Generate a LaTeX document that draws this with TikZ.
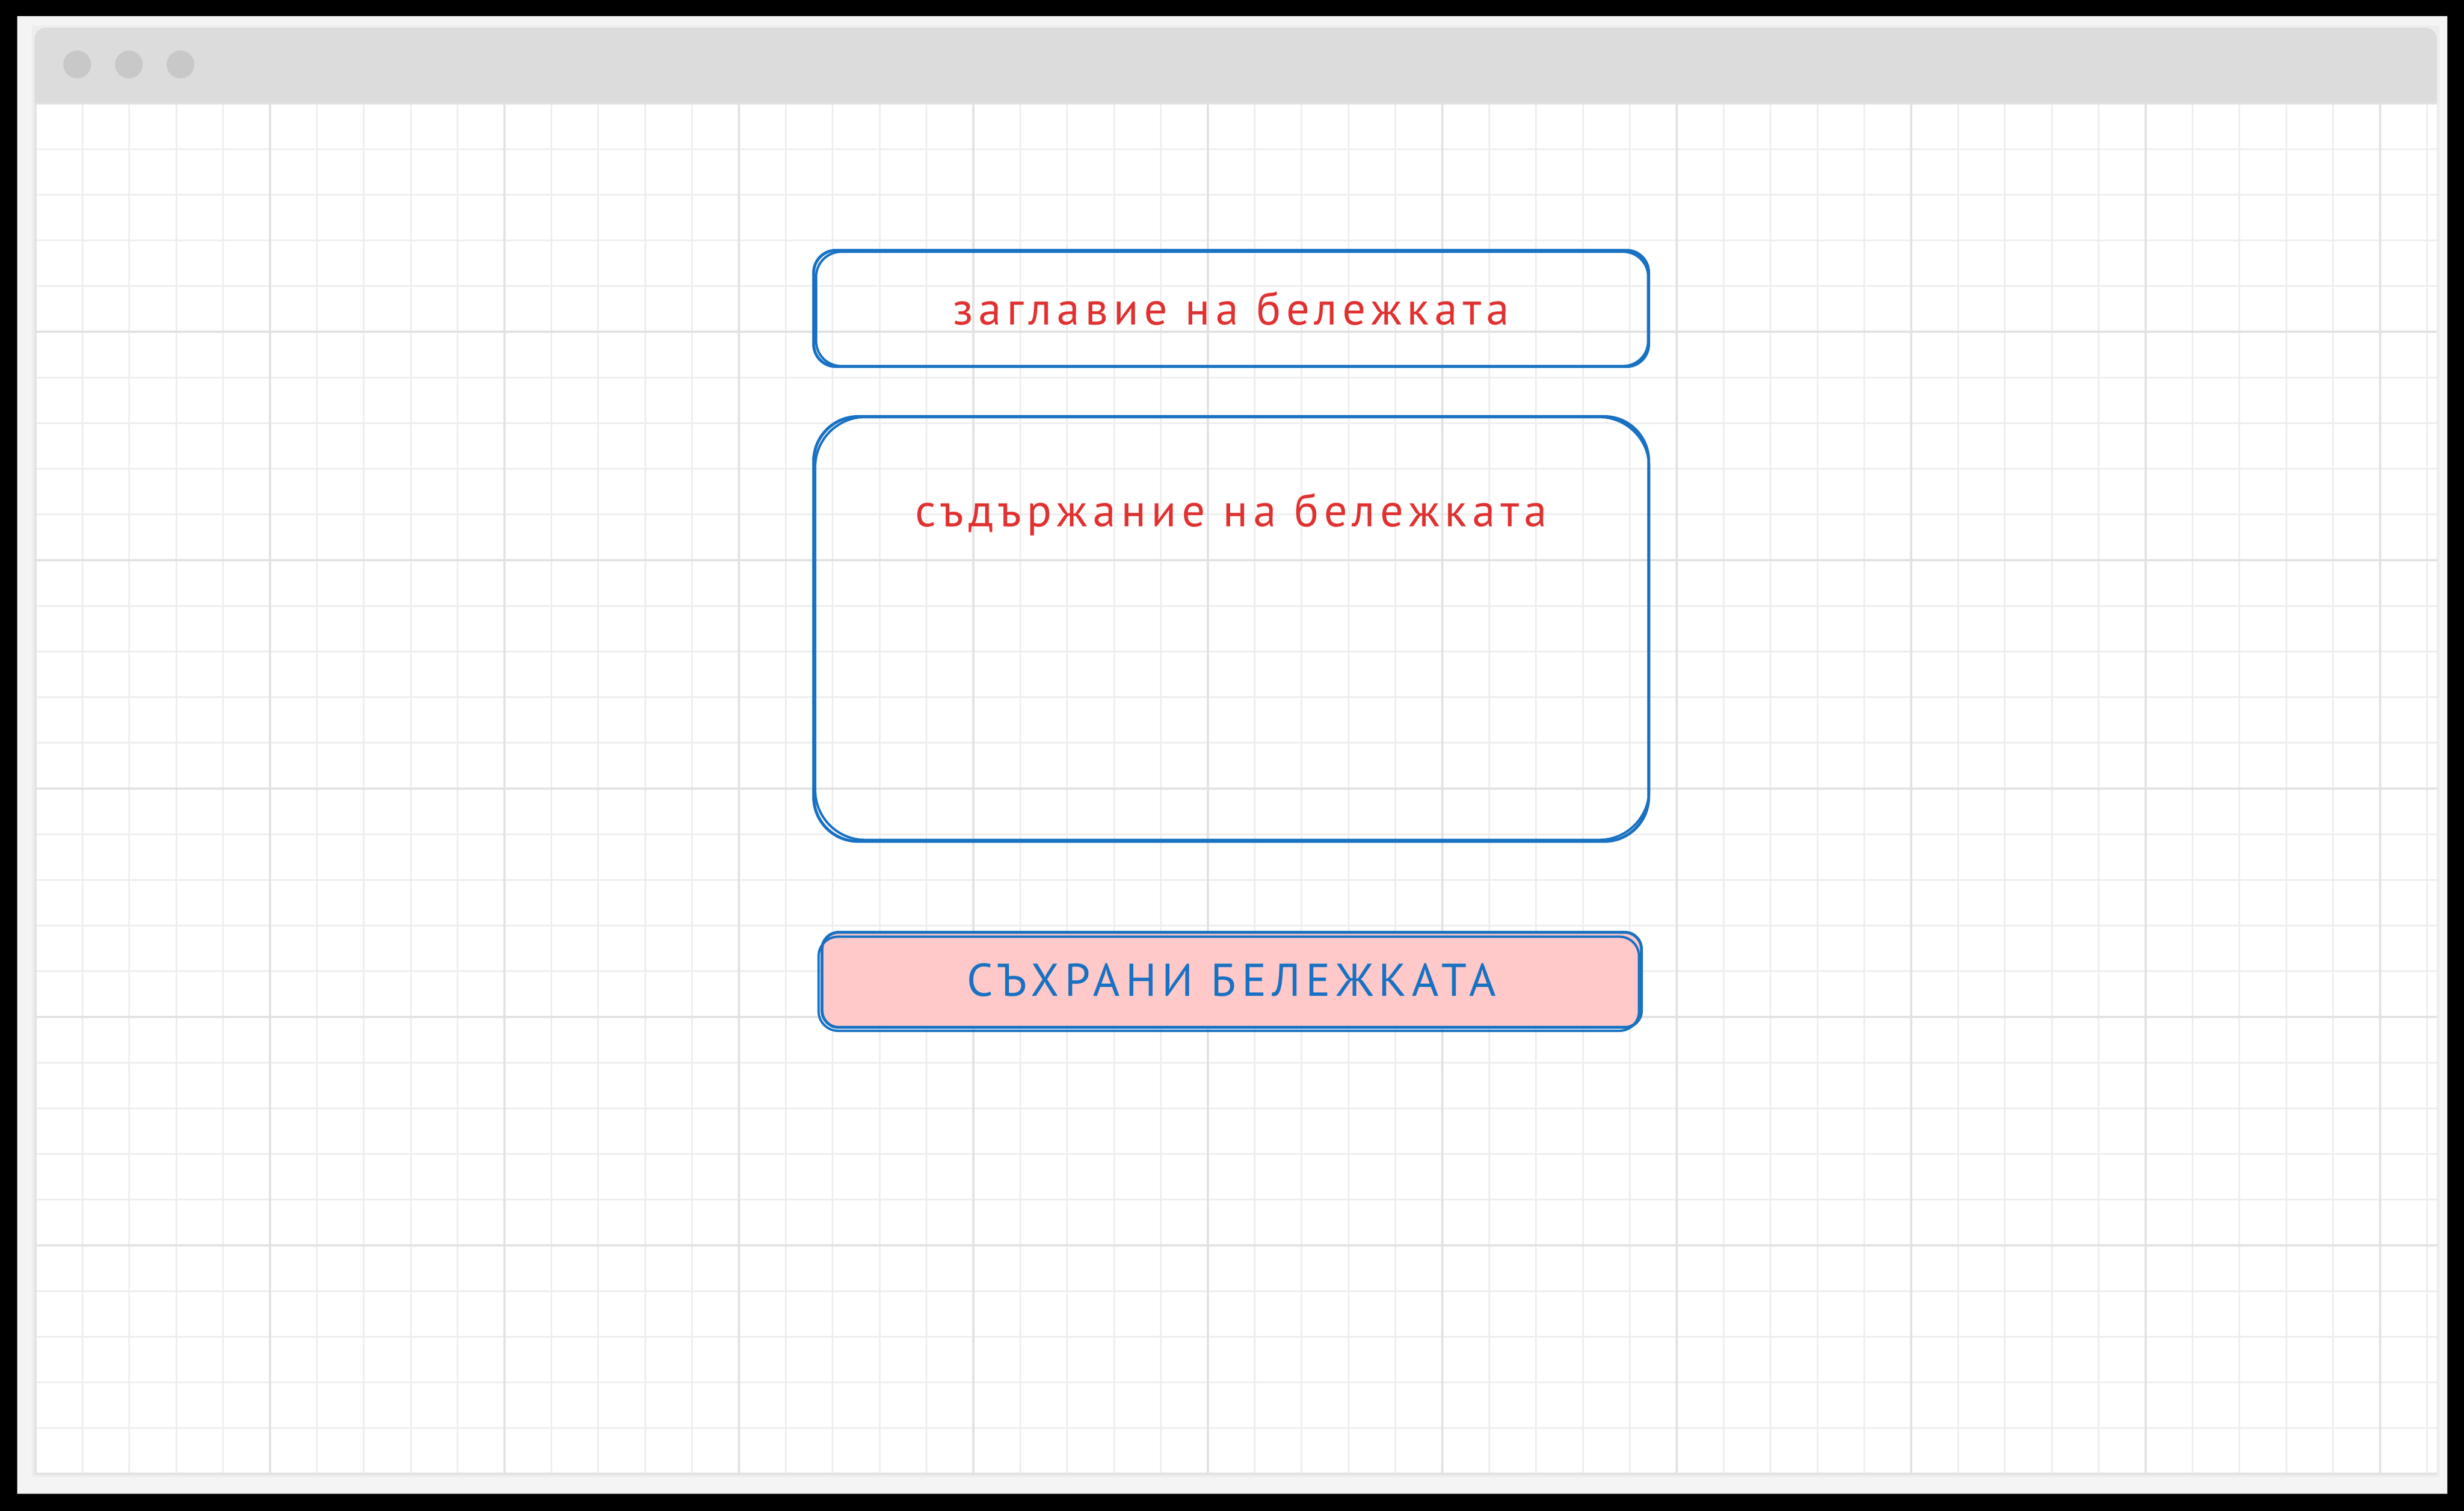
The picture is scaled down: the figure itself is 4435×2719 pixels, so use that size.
\documentclass[tikz,border=0pt]{standalone}
\usepackage{fontspec}
\setmainfont{PT Sans}
\newfontfamily\handfont[LetterSpace=12]{PT Sans}
\usepackage{tikz}
\usetikzlibrary{positioning}
\definecolor{sketchblue}{HTML}{1971C2}
\definecolor{notered}{HTML}{E03131}
\definecolor{btnpink}{HTML}{FFC9C9}
\definecolor{bargray}{HTML}{DCDCDC}
\definecolor{dotgray}{HTML}{C8C8C8}
\definecolor{framegray}{HTML}{F4F4F4}
\definecolor{minorline}{HTML}{EEEEEE}
\definecolor{majorline}{HTML}{E2E2E2}
\tikzstyle{field} = [rectangle, rounded corners=0.4cm,
minimum width=15.02cm,
minimum height=2.09cm,
inner sep=0pt,
text centered,
draw=sketchblue, line width=1.5pt,
text=notered,
font=\handfont\fontsize{23.5}{27}\selectfont]
\tikzstyle{area} = [field,
rounded corners=0.8cm,
minimum height=7.64cm]
\tikzstyle{button} = [field,
rounded corners=0.3cm,
minimum width=14.74cm,
minimum height=1.71cm,
fill=btnpink,
text=sketchblue]
\tikzstyle{sketch} = [draw=sketchblue, line width=1.2pt]
\tikzstyle{minorgrid} = [minorline, line width=0.85pt]
\tikzstyle{majorgrid} = [majorline, line width=1.1pt]

\begin{document}
\begin{tikzpicture}[x=0.01cm, y=-0.01cm]
            % page and browser window
            \fill[black] (0,0) rectangle (4435,2719);
            \useasboundingbox (0,0) rectangle (4435,2719);
            \fill[framegray] (31,29) rectangle (4405,2688);
            \fill[black!7] (57,46) rectangle (4391,2658);
            \fill[bargray, rounded corners=0.2cm] (62,50) rectangle (4386,2653);
            \fill[white] (62,186) rectangle (4386,2653);
            \foreach \x in {139,232,325}
                \fill[dotgray] (\x,116) circle (25);

            % grid
            \begin{scope}
                \clip (62,186) rectangle (4386,2653);
                \foreach \i in {0,...,51}
                    \draw[minorgrid] ({64+84.4*\i},186) -- ({64+84.4*\i},2653);
                \foreach \j in {0,...,30}
                    \draw[minorgrid] (62,{186+82.2*\j}) -- (4386,{186+82.2*\j});
                \foreach \i in {0,...,10}
                    \draw[majorgrid] ({64+422*\i},186) -- ({64+422*\i},2653);
                \foreach \j in {0,...,6}
                    \draw[majorgrid] (62,{186+411*\j}) -- (4386,{186+411*\j});
            \end{scope}

            % form
            \node (title) [field] at (2216,555) {заглавие на бележката};
            \node (content) [area, below of=title, node distance=5.765cm] {};
            \node (contenttext) [text=notered, font=\handfont\fontsize{23.5}{27}\selectfont, above of=content, node distance=2.06cm] {съдържание на бележката};
            \node (save) [button, below of=content, node distance=6.31cm, xshift=0.01cm] {СЪХРАНИ БЕЛЕЖКАТА};

            % second pen strokes
            \draw[sketch, rounded corners=0.45cm] ([xshift=2pt,yshift=-1.5pt]title.north west) rectangle ([xshift=-1pt,yshift=1pt]title.south east);
            \draw[sketch, rounded corners=0.9cm] ([xshift=1.5pt,yshift=-1pt]content.north west) rectangle ([xshift=-0.5pt,yshift=1.5pt]content.south east);
            \draw[sketch, rounded corners=0.35cm] ([xshift=-1pt,yshift=-3pt]save.north west) rectangle ([xshift=-2pt,yshift=-1pt]save.south east);
        \end{tikzpicture}
\end{document}
